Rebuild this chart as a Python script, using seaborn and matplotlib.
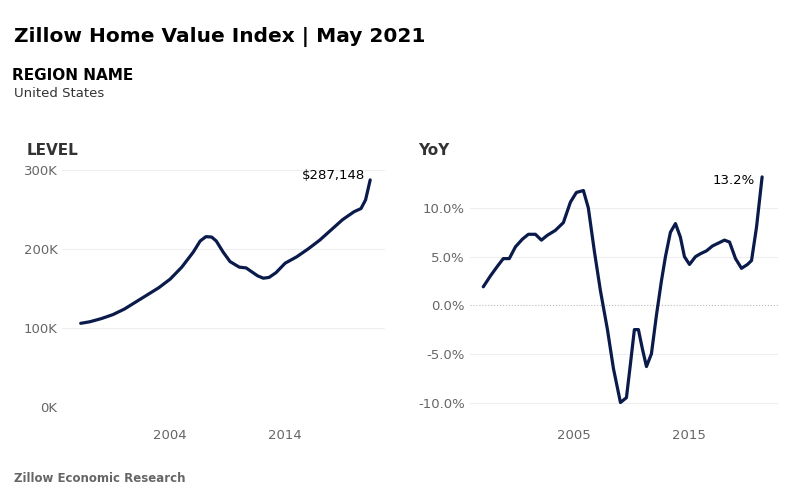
import numpy as np
import pandas as pd
import matplotlib
matplotlib.use("Agg")
import matplotlib.pyplot as plt
import seaborn as sns
from matplotlib.ticker import FuncFormatter

# level (thousands of $)
level_year = [1996.2, 1997, 1998, 1999, 2000, 2001, 2002, 2003, 2004, 2005, 2006, 2006.6, 2007.1,
              2007.6, 2008, 2008.6, 2009.2, 2010, 2010.6, 2011, 2011.6, 2012.1, 2012.6, 2013.2,
              2014, 2015, 2016, 2017, 2018, 2019, 2020, 2020.6, 2021.0, 2021.4]
level_val = [106, 108, 112, 117, 124, 133, 142, 151, 162, 177, 196, 210, 215.5,
             215, 210, 196, 184, 177, 176, 172, 166, 163, 164, 170,
             182, 190, 200, 211, 224, 237, 247, 251, 262, 287.148]

yoy_year = [1997.17, 1997.78, 1998.39, 1998.91, 1999.43, 1999.96, 2000.57, 2001.09, 2001.70,
            2002.22, 2002.74, 2003.43, 2004.13, 2004.74, 2005.26, 2005.87, 2006.30, 2006.83,
            2007.35, 2007.96, 2008.48, 2009.09, 2009.61, 2009.96, 2010.30, 2010.65, 2011.00,
            2011.35, 2011.78, 2012.22, 2012.65, 2013.00, 2013.43, 2013.87, 2014.30, 2014.65,
            2015.09, 2015.61, 2016.04, 2016.57, 2017.09, 2017.61, 2018.13, 2018.57, 2019.09,
            2019.61, 2020.13, 2020.48, 2020.91, 2021.4]
yoy_val = [1.9, 3.0, 4.0, 4.8, 4.8, 6.0, 6.8, 7.3, 7.3, 6.7, 7.2, 7.7, 8.5, 10.6, 11.6, 11.8,
           10.0, 5.5, 1.5, -2.5, -6.5, -10.0, -9.5, -6.0, -2.5, -2.5, -4.5, -6.3, -5.0, -1.0,
           2.5, 5.0, 7.5, 8.4, 7.0, 5.0, 4.2, 5.0, 5.3, 5.6, 6.1, 6.4, 6.7, 6.5, 4.8, 3.8,
           4.2, 4.6, 8.0, 13.2]

sns.set_theme(style="white")
plt.rcParams['font.family'] = ['DejaVu Sans']
navy = "#0a1a4a"

fig = plt.figure(figsize=(7.99, 4.99), dpi=100)
ax1 = fig.add_axes([0.078, 0.168, 0.404, 0.495])
ax2 = fig.add_axes([0.588, 0.168, 0.386, 0.495])

df1 = pd.DataFrame({"year": level_year, "val": level_val})
df2 = pd.DataFrame({"year": yoy_year, "val": yoy_val})

for ax in (ax1, ax2):
    for s in ax.spines.values():
        s.set_visible(False)
    ax.tick_params(colors="#666666", labelsize=9.5, length=0)
    ax.tick_params(axis="x", pad=10)

for v in [100, 200, 300]:
    ax1.axhline(v, color="#eeeeee", lw=0.8, zorder=0)
sns.lineplot(data=df1, x="year", y="val", ax=ax1, color=navy, lw=2.3, sort=False)
ax1.set_xlim(1994.6, 2022.7)
ax1.set_ylim(-10, 302)
ax1.set_yticks([0, 100, 200, 300])
ax1.yaxis.set_major_formatter(FuncFormatter(lambda v, p: f"{int(v)}K"))
ax1.set_xticks([2004, 2014])
ax1.text(2021.0, level_val[-1] - 3, "$287,148", ha="right", va="bottom", fontsize=9.5, color="black")

for v in [10, 5, -5, -10]:
    ax2.axhline(v, color="#eeeeee", lw=0.8, zorder=0)
ax2.axhline(0, color="#bbbbbb", lw=0.8, ls=":", zorder=0)
sns.lineplot(data=df2, x="year", y="val", ax=ax2, color=navy, lw=2.3, sort=False)
ax2.set_xlim(1996.0, 2022.8)
ax2.set_ylim(-11.3, 14.1)
ax2.set_yticks([-10, -5, 0, 5, 10])
ax2.yaxis.set_major_formatter(FuncFormatter(lambda v, p: f"{v:.1f}%"))
ax2.set_xticks([2005, 2015])
ax2.text(2020.8, 12.2, "13.2%", ha="right", va="bottom", fontsize=9.5, color="black")

for ax in (ax1, ax2):
    ax.set_xlabel("")
    ax.set_ylabel("")

fig.text(0.018, 0.915, "Zillow Home Value Index | May 2021", fontsize=14.5, fontweight="bold", color="black")
fig.text(0.015, 0.84, "REGION NAME", fontsize=11, fontweight="bold", color="black")
fig.text(0.018, 0.806, "United States", fontsize=9.5, color="#333333")
fig.text(0.033, 0.69, "LEVEL", fontsize=11, fontweight="bold", color="#333333")
fig.text(0.523, 0.69, "YoY", fontsize=11, fontweight="bold", color="#333333")
fig.text(0.018, 0.035, "Zillow Economic Research", fontsize=8.5, fontweight="bold", color="#666666")

fig.savefig("out.png", dpi=100)
